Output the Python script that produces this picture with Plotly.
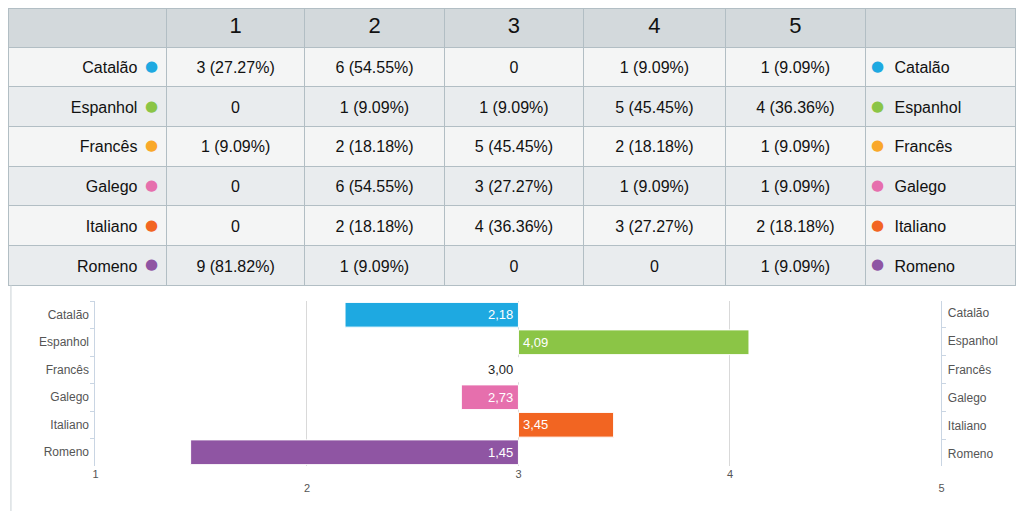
import plotly.graph_objects as go

# ---------------- data ----------------
languages = ["Catalão", "Espanhol", "Francês", "Galego", "Italiano", "Romeno"]
colors = ["#1ea9e1", "#8bc546", "#f9a82a", "#e66fad", "#f26522", "#8f55a3"]
scale_labels = ["1", "2", "3", "4", "5"]
counts = [
    [3, 6, 0, 1, 1],
    [0, 1, 1, 5, 4],
    [1, 2, 5, 2, 1],
    [0, 6, 3, 1, 1],
    [0, 2, 4, 3, 2],
    [9, 1, 0, 0, 1],
]
means = [2.18, 4.09, 3.00, 2.73, 3.45, 1.45]
x_ticks = [1, 2, 3, 4, 5]
x_ticktext = ["1", "<br>2", "3", "4", "<br>5"]
midpoint = 3

W, H = 1019, 511
FONT = "Liberation Sans, Arial, sans-serif"


def cell_text(n, total):
    if n == 0:
        return "0"
    return f"{n} ({n / total * 100:.2f}%)"


# ---------------- table layout ----------------
nrows = len(languages)
ncols = 2 + len(scale_labels)
col_widths = [158, 139, 140, 140, 142, 141, 151]
DOT_SLOT = 21          # room kept for the legend dot next to the names
TABLE_LEFT, TABLE_TOP = 8, 8
HDR_H, CELL_H = 39, 39.7
BODY_TOP = TABLE_TOP + HDR_H
BODY_BOTTOM = BODY_TOP + CELL_H * nrows
TEXT_DROP = 6          # pushes cell text towards the vertical centre of each row
LINE = "#b2bec4"
CLEAR = "rgba(0,0,0,0)"
aligns = ["right"] + ["center"] * len(scale_labels) + ["left"]


def tdomain(drop=0):
    return dict(x=[(TABLE_LEFT - 2) / W, 1.0],
                y=[(H - BODY_BOTTOM - 12 - drop) / H, (H - TABLE_TOP - drop) / H])


value_cols = [[cell_text(row[j], sum(row)) for row in counts] for j in range(len(scale_labels))]
row_fills = ["#f4f5f5" if i % 2 == 0 else "#e9ecee" for i in range(nrows)]

# grid: header, fills and borders
grid = go.Table(
    domain=tdomain(),
    columnwidth=col_widths,
    header=dict(
        values=[""] + scale_labels + [""],
        fill_color="#d3d9dc",
        line=dict(color=LINE, width=1),
        font=dict(family=FONT, size=22, color="#111"),
        align="center",
        height=HDR_H,
    ),
    cells=dict(
        values=[[""] * nrows for _ in range(ncols)],
        fill_color=[row_fills] * ncols,
        line=dict(color=LINE, width=1),
        align=aligns,
        height=CELL_H,
    ),
)

# body text, transparent, laid over the grid (name columns split to leave a dot slot)
empty = [""] * nrows
text_widths = ([col_widths[0] - DOT_SLOT, DOT_SLOT] + col_widths[1:-1]
               + [DOT_SLOT, col_widths[-1] - DOT_SLOT])
text_table = go.Table(
    domain=tdomain(TEXT_DROP),
    columnwidth=text_widths,
    header=dict(values=[""] * len(text_widths), fill_color=CLEAR,
                line=dict(color=CLEAR, width=0), height=HDR_H),
    cells=dict(
        values=[languages, empty] + value_cols + [empty, languages],
        fill_color=CLEAR,
        line=dict(color=CLEAR, width=0),
        font=dict(family=FONT, size=16, color="#111"),
        align=["right", "left"] + ["center"] * len(scale_labels) + ["left", "left"],
        height=CELL_H,
    ),
)

# ---------------- bar chart ----------------
bars = go.Bar(
    orientation="h",
    y=languages,
    x=[m - midpoint for m in means],
    base=midpoint,
    marker=dict(color=colors, line=dict(color="#ffffff", width=1)),
    width=0.9,
    hoverinfo="skip",
    showlegend=False,
)
ghost = go.Scatter(
    x=means, y=languages, yaxis="y2", mode="markers",
    marker=dict(opacity=0), hoverinfo="skip", showlegend=False,
)

fig = go.Figure([grid, text_table, bars, ghost])

annotations = []
for l, m in zip(languages, means):
    right_side = m > midpoint
    annotations.append(dict(
        x=midpoint, y=l, xref="x", yref="y",
        text=f"{m:.2f}".replace(".", ","),
        showarrow=False,
        xanchor="left" if right_side else "right",
        xshift=3 if right_side else -3,
        font=dict(family=FONT, size=13, color="#222" if m == midpoint else "#ffffff"),
    ))

# legend dots inside the first and last table columns (annotations sit above tables)
col_edges = [TABLE_LEFT]
for w in col_widths:
    col_edges.append(col_edges[-1] + w)
for i, c in enumerate(colors):
    yc = BODY_TOP + (i + 0.5) * CELL_H - 1
    for xc in (col_edges[1] - 17, col_edges[-2] + 12):
        annotations.append(dict(
            x=xc / W, y=(H - yc) / H, xref="paper", yref="paper",
            text="●", showarrow=False, xanchor="center", yanchor="middle",
            font=dict(family="DejaVu Sans", size=15, color=c),
        ))

axis_common = dict(
    type="category",
    categoryorder="array",
    categoryarray=languages,
    autorange="reversed",
    showline=True,
    linecolor="#c9d5e3",
    linewidth=1,
    ticks="outside",
    tickson="boundaries",
    ticklen=4,
    tickcolor="#c9d5e3",
    ticklabelstandoff=3,
    showgrid=False,
    tickfont=dict(family=FONT, size=12, color="#555"),
)

fig.update_layout(
    width=W, height=H,
    margin=dict(l=0, r=0, t=0, b=0),
    paper_bgcolor="#ffffff",
    plot_bgcolor=CLEAR,
    bargap=0.1,
    xaxis=dict(
        domain=[93 / W, 944 / W],
        range=[1, 5],
        tickvals=x_ticks,
        ticktext=x_ticktext,
        showgrid=True,
        gridcolor="#d9d9d9",
        zeroline=False,
        showline=False,
        ticks="",
        tickfont=dict(family=FONT, size=11, color="#555"),
        fixedrange=True,
    ),
    yaxis=dict(domain=[(H - 466) / H, (H - 301) / H], side="left", **axis_common),
    yaxis2=dict(overlaying="y", side="right", anchor="x", **axis_common),
    annotations=annotations,
    shapes=[dict(type="line", xref="paper", yref="paper",
                 x0=TABLE_LEFT / W, x1=TABLE_LEFT / W, y0=0, y1=(H - BODY_BOTTOM) / H,
                 line=dict(color="#c9d1d5", width=1))],
)

fig.write_html(
    "out.html",
    config={"displayModeBar": False},
    post_script="document.body.style.margin='0';document.body.style.overflow='hidden';",
)
